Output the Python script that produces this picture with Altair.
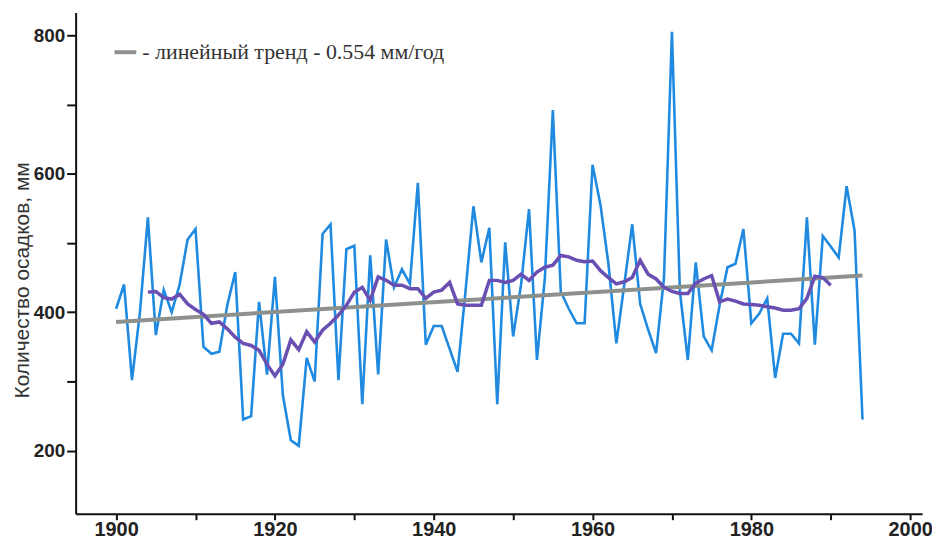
import altair as alt
import pandas as pd

# Annual precipitation, 1900-1994 (mm)
years = list(range(1900, 1995))
precip = [
    405, 440, 302, 400, 537, 367, 432, 400, 440, 505,   # 1900-1909
    520, 350, 340, 343, 410, 458, 245, 250, 415, 310,   # 1910-1919
    451, 280, 215, 207, 334, 300, 513, 527, 302, 491,   # 1920-1929
    496, 267, 482, 310, 505, 436, 462, 441, 587, 353,   # 1930-1939
    380, 380, 347, 314, 430, 553, 472, 522, 267, 501,   # 1940-1949
    365, 440, 549, 331, 450, 692, 430, 405, 384, 384,   # 1950-1959
    613, 555, 470, 355, 440, 527, 412, 375, 341, 450,   # 1960-1969
    805, 430, 331, 472, 365, 345, 410, 465, 470, 520,   # 1970-1979
    384, 398, 420, 305, 369, 369, 355, 537, 353, 510,   # 1980-1989
    495, 479, 582, 518, 245,                            # 1990-1994
]

# Smoothed curve, 1904-1990 (mm)
ma_years = list(range(1904, 1991))
ma_vals = [
    429, 430, 421, 419, 426, 412,                       # 1904-1909
    404, 397, 384, 386, 376, 364, 355, 352, 345, 325,   # 1910-1919
    308, 325, 360, 346, 372, 357, 374, 384, 396, 410,   # 1920-1929
    429, 436, 417, 451, 446, 439, 439, 434, 434, 420,   # 1930-1939
    429, 432, 443, 412, 410, 410, 410, 446, 446, 443,   # 1940-1949
    446, 455, 446, 458, 465, 468, 482, 480, 475, 473,   # 1950-1959
    474, 460, 450, 441, 444, 450, 475, 455, 448, 436,   # 1960-1969
    430, 427, 427, 442, 448, 453, 415, 419, 416, 412,   # 1970-1979
    411, 410, 408, 406, 403, 403, 405, 420, 452, 450,   # 1980-1989
    439,                                                # 1990
]

# Linear trend end points
trend_years = [1900, 1994]
trend_vals = [386, 453]
trend_label = "- линейный тренд - 0.554 мм/год"

x_ticks = list(range(1900, 2001, 10))
y_ticks = [200, 300, 400, 500, 600, 700, 800]

df_p = pd.DataFrame({"year": years, "value": precip})
df_m = pd.DataFrame({"year": ma_years, "value": ma_vals})
df_t = pd.DataFrame({"year": trend_years, "value": trend_vals, "label": [trend_label] * 2})

xscale = alt.Scale(domain=[1894.9, 2001.5], nice=False, zero=False)
yscale = alt.Scale(domain=[109, 833], nice=False, zero=False)

xaxis = alt.Axis(
    values=x_ticks, format="d", title=None, grid=False,
    labelExpr="datum.value % 20 == 0 ? datum.label : ''",
    labelFont="Liberation Sans", labelFontWeight="bold", labelFontSize=20,
    labelColor="#222222", labelPadding=0,
    tickSize=6, tickWidth=2, tickColor="#111111",
    domainColor="#111111", domainWidth=2,
)
yaxis = alt.Axis(
    values=y_ticks, title="Количество осадков, мм", grid=False,
    labelExpr="datum.value % 200 == 0 ? datum.label : ''",
    labelFont="Liberation Sans", labelFontWeight="bold", labelFontSize=19,
    labelColor="#222222", labelPadding=2,
    tickSize=9, tickWidth=2, tickColor="#111111",
    domainColor="#111111", domainWidth=2,
    titleFont="Liberation Sans", titleFontWeight="normal", titleFontSize=21,
    titleColor="#333333", titlePadding=1, titleY=269,
)

blue = alt.Chart(df_p).mark_line(color="#1f8ae0", strokeWidth=2.6).encode(
    x=alt.X("year:Q", scale=xscale, axis=xaxis),
    y=alt.Y("value:Q", scale=yscale, axis=yaxis),
)

trend = alt.Chart(df_t).mark_line(strokeWidth=4).encode(
    x=alt.X("year:Q", scale=xscale),
    y=alt.Y("value:Q", scale=yscale),
    color=alt.Color(
        "label:N",
        scale=alt.Scale(domain=[trend_label], range=["#8d918b"]),
        legend=alt.Legend(
            orient="none", legendX=37, legendY=27, title=None,
            symbolType="stroke", symbolStrokeWidth=4, symbolSize=480,
            labelFont="Liberation Serif", labelFontSize=22, labelColor="#333333",
            labelOffset=4, labelLimit=0, padding=0,
        ),
    ),
)

purple = alt.Chart(df_m).mark_line(color="#6a4fb2", strokeWidth=3.5).encode(
    x=alt.X("year:Q", scale=xscale),
    y=alt.Y("value:Q", scale=yscale),
)

chart = alt.layer(blue, trend, purple).properties(
    width=851, height=504,
    autosize=alt.AutoSizeParams(type="none"),
    padding={"left": 68, "top": 3, "right": 10, "bottom": 25},
    background="white",
).configure_view(stroke=None)

chart.save("out.html", embed_options={"renderer": "svg", "actions": False})
